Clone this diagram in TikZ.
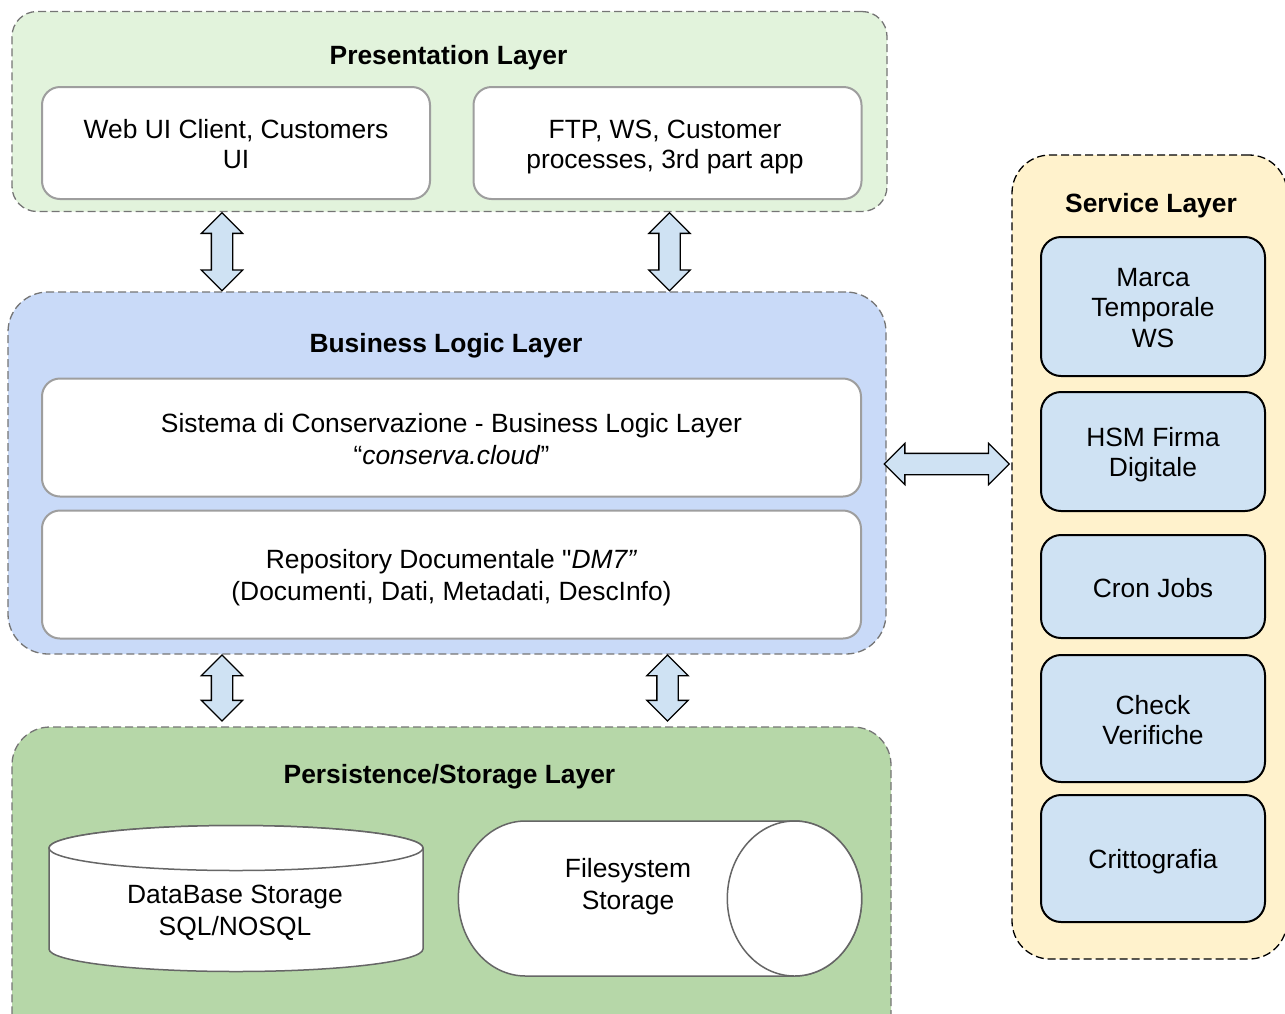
\documentclass[tikz,border=0pt]{standalone}
\usepackage{fontspec}
\setmainfont{Liberation Sans}[Ligatures=TeXOff]
\usetikzlibrary{shapes.arrows}
\definecolor{presfill}{HTML}{E2F3DC}
\definecolor{busfill}{HTML}{C9DAF8}
\definecolor{persfill}{HTML}{B6D7A8}
\definecolor{servfill}{HTML}{FFF2CC}
\definecolor{boxblue}{HTML}{CFE2F3}
\definecolor{dashgray}{HTML}{757575}
\definecolor{boxgray}{HTML}{9E9E9E}
\definecolor{cylgray}{HTML}{666666}
\newcommand{\tstrut}{\rule[-4.5pt]{0pt}{30pt}}
\begin{document}
\begin{tikzpicture}[x=1pt,y=-1pt,
  every node/.style={inner sep=0pt, outer sep=0pt, align=center, font=\fontsize{26.4}{30}\selectfont},
  layerbox/.style={rectangle, draw=dashgray, line width=1.3pt, dash pattern=on 8pt off 4pt},
  innerbox/.style={rectangle, draw=boxgray, line width=2pt, fill=white, rounded corners=18pt},
  servbox/.style={rectangle, draw=black, line width=2pt, fill=boxblue, rounded corners=20pt, minimum width=224pt},
  title/.style={anchor=base, font=\fontsize{26.4}{30}\selectfont\bfseries},
  blockarrow/.style={shape=double arrow, draw=black, line width=1.3pt, fill=boxblue, inner xsep=0pt, inner ysep=10pt, double arrow head extend=10pt, double arrow tip angle=90, minimum width=40pt},
  cyl/.style={draw=cylgray, line width=1.5pt, fill=white}
]
\useasboundingbox (0,0) rectangle (1285,1013);

% layers
\node[layerbox, fill=presfill, rounded corners=25pt, minimum width=875pt, minimum height=200pt] (pres) at (449.5,111.5) {};
\node[layerbox, fill=busfill, rounded corners=40pt, minimum width=878pt, minimum height=362pt] (bus) at (447,473) {};
\node[layerbox, fill=persfill, rounded corners=38pt, minimum width=879pt, minimum height=330pt] (pers) at (451.5,892) {};
\node[layerbox, draw=black, fill=servfill, rounded corners=38pt, minimum width=275pt, minimum height=804pt] (serv) at (1149.5,557) {};

% titles
\node[title] (prestitle) at (448.5,64) {Presentation Layer};
\node[title] (bustitle) at (446,352) {Business Logic Layer};
\node[title] (perstitle) at (449.5,783) {Persistence/Storage Layer};
\node[title] (servtitle) at (1151,212) {Service Layer};

% presentation boxes
\node[innerbox, minimum width=388pt, minimum height=112pt] (web) at (236,143) {\tstrut Web UI Client, Customers\\\tstrut UI};
\node[innerbox, minimum width=388pt, minimum height=112pt] (ftp) at (667.5,143) {\tstrut FTP, WS, Customer\hspace*{5pt}\\\tstrut processes, 3rd part app\hspace*{5pt}};

% business boxes
\node[innerbox, minimum width=819pt, minimum height=118pt] (sist) at (451.5,437.5) {\tstrut Sistema di Conservazione - Business Logic Layer\\\tstrut “\textit{conserva.cloud}”};
\node[innerbox, minimum width=819pt, minimum height=128pt] (repo) at (451.5,574.5) {\tstrut Repository Documentale "\textit{DM7”}\\\tstrut (Documenti, Dati, Metadati, DescInfo)};

% service boxes
\node[servbox, minimum height=139pt] (marca) at (1153,306.5) {\tstrut Marca\\\tstrut Temporale\\\tstrut WS};
\node[servbox, minimum height=119pt] (hsm) at (1153,451.5) {\tstrut HSM Firma\\\tstrut Digitale};
\node[servbox, minimum height=103pt] (cron) at (1153,586.5) {\tstrut Cron Jobs};
\node[servbox, minimum height=127pt] (check) at (1153,718.5) {\tstrut Check\\\tstrut Verifiche};
\node[servbox, minimum height=127pt] (critto) at (1153,858.5) {\tstrut Crittografia};

% block arrows
\node[blockarrow, minimum height=78pt, rotate=90] (a1) at (222,251.7) {};
\node[blockarrow, minimum height=78pt, rotate=90] (a2) at (669.5,251.7) {};
\node[blockarrow, minimum height=66pt, rotate=90] (a3) at (222,688) {};
\node[blockarrow, minimum height=66pt, rotate=90] (a4) at (667.5,688) {};
\node[blockarrow, minimum height=125pt] (a5) at (946.7,464) {};

% database cylinder
\path[cyl] (49,848) -- (49,949) arc[start angle=180, end angle=360, x radius=187pt, y radius=22.5pt] -- (423,848) arc[start angle=0, end angle=180, x radius=187pt, y radius=22.5pt] -- cycle;
\path[cyl] (236,848) ellipse[x radius=187pt, y radius=22.5pt];
\node (dbtext) at (235,909.3) {\tstrut DataBase Storage\\\tstrut SQL/NOSQL};

% filesystem cylinder
\path[cyl] (525.5,821) -- (794.5,821) arc[start angle=90, end angle=-90, x radius=67.2pt, y radius=77.5pt] -- (525.5,976) arc[start angle=270, end angle=90, x radius=67.2pt, y radius=77.5pt] -- cycle;
\path[cyl] (794.5,898.5) ellipse[x radius=67.2pt, y radius=77.5pt];
\node (fstext) at (628,883.3) {\tstrut Filesystem\\\tstrut Storage};
\end{tikzpicture}
\end{document}
